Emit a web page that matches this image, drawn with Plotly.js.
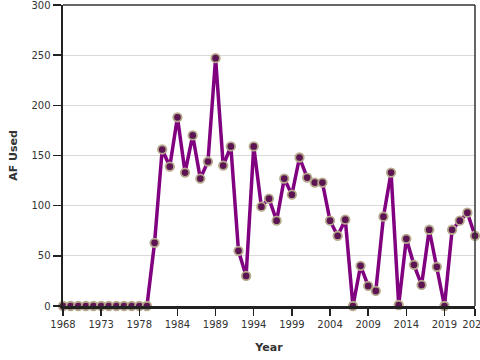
<!DOCTYPE html>
<html>
<head>
<meta charset="utf-8">
<script src="https://cdn.plot.ly/plotly-3.0.1.min.js"></script>
<style>html,body{margin:0;padding:0;background:#fff;}#chart{width:480px;height:360px;}</style>
</head>
<body>
<div id="chart"></div>
<script>
const years = ["1968","1969","1970","1971","1972","1973","1974","1975","1976","1977","1978","1979",
  "1980","1981","1983","1984","1985","1986","1987","1988","1989","1990","1991","1992","1993",
  "1994","1995","1996","1997","1998","1999","2000","2001","2002","2003","2004","2005","2006",
  "2007","2008","2009","2010","2011","2012","2013","2014","2015","2016","2017","2018","2019",
  "2020","2021","2022","2023"];
const afUsed = [0,0,0,0,0,0,0,0,0,0,0,0,
  63,156,139,188,133,170,127,144,247,140,159,55,30,
  159,99,107,85,127,111,148,128,123,123,85,70,86,
  0,40,20,15,89,133,1,67,41,21,76,39,0,
  76,85,93,70];
const tickYears = ["1968","1973","1978","1984","1989","1994","1999","2004","2009","2014","2019","2023"];
const yTicks = [0,50,100,150,200,250,300];

const trace = {
  x: years, y: afUsed, type: 'scatter', mode: 'lines+markers',
  line: {color: '#800080', width: 3.5},
  marker: {size: 8.5, color: '#5c1552', line: {color: '#b5aa8c', width: 1.8}},
  cliponaxis: false, hoverinfo: 'skip'
};
const layout = {
  width: 480, height: 360,
  margin: {l: 63, r: 5, t: 5, b: 54},
  paper_bgcolor: '#fff', plot_bgcolor: '#fff',
  showlegend: false,
  font: {family: 'DejaVu Sans, sans-serif', size: 10, color: '#333'},
  xaxis: {
    type: 'category', range: [0, 54],
    tickmode: 'array', tickvals: tickYears, ticktext: tickYears,
    ticklabeloverflow: 'allow',
    showgrid: false, zeroline: false,
    showline: true, linecolor: '#222', linewidth: 2.5,
    ticks: 'outside', ticklen: 7, tickwidth: 1.5, tickcolor: '#222',
    tickfont: {size: 10, color: '#333'},
    title: {text: '<b>Year</b>', font: {size: 11, color: '#333'}, standoff: 15}
  },
  yaxis: {
    range: [0, 300], tickmode: 'array', tickvals: yTicks,
    ticklabeloverflow: 'allow',
    showgrid: true, gridcolor: '#d9d9d9', gridwidth: 1, zeroline: false,
    showline: true, linecolor: '#222', linewidth: 2.5,
    ticks: 'outside', ticklen: 8, tickwidth: 1.5, tickcolor: '#222',
    tickfont: {size: 10, color: '#333'},
    title: {text: '<b>AF Used</b>', font: {size: 11, color: '#333'}, standoff: 12}
  },
  shapes: [
    {type: 'line', xref: 'paper', yref: 'paper', x0: 0, x1: 1, y0: 1, y1: 1, line: {color: '#333', width: 1.5}},
    {type: 'line', xref: 'paper', yref: 'paper', x0: 1, x1: 1, y0: 0, y1: 1, line: {color: '#333', width: 1.5}}
  ]
};
Plotly.newPlot('chart', [trace], layout, {displayModeBar: false, staticPlot: true});
</script>
</body>
</html>
